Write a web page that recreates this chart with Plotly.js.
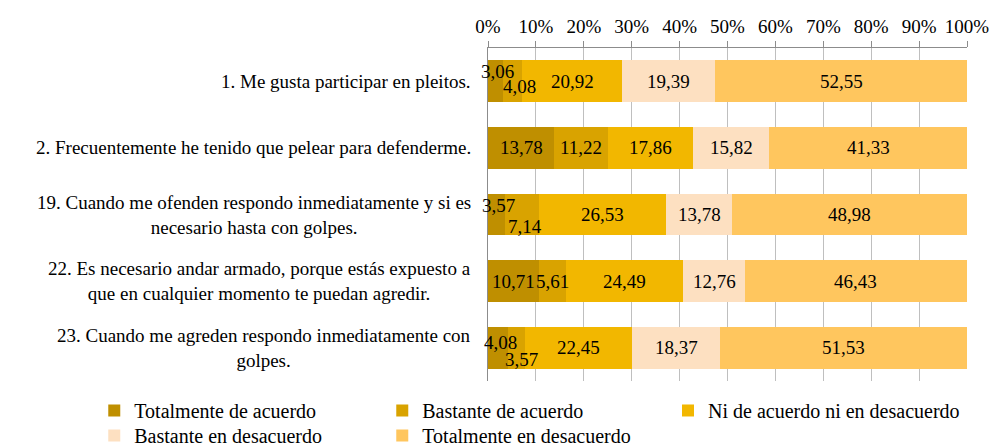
<!DOCTYPE html>
<html>
<head>
<meta charset="utf-8">
<script src="https://cdn.plot.ly/plotly-3.0.1.min.js"></script>
<style>html,body{margin:0;padding:0;background:#fff;}#chart{width:992px;height:446px;}</style>
</head>
<body>
<div id="chart"></div>
<script>
// Data
const categories = [
  "1. Me gusta participar en pleitos.",
  "2. Frecuentemente he tenido que pelear para defenderme.",
  "19. Cuando me ofenden respondo inmediatamente y si es<br>necesario hasta con golpes.",
  "22. Es necesario andar armado, porque estás expuesto a<br>que en cualquier momento te puedan agredir.",
  "23. Cuando me agreden respondo inmediatamente con<br>golpes."
];
const seriesNames = [
  "Totalmente de acuerdo",
  "Bastante de acuerdo",
  "Ni de acuerdo ni en desacuerdo",
  "Bastante en desacuerdo",
  "Totalmente en desacuerdo"
];
const totalmenteDeAcuerdo = [3.06, 13.78, 3.57, 10.71, 4.08];
const bastanteDeAcuerdo = [4.08, 11.22, 7.14, 5.61, 3.57];
const niDeAcuerdo = [20.92, 17.86, 26.53, 24.49, 22.45];
const bastanteEnDesacuerdo = [19.39, 15.82, 13.78, 12.76, 18.37];
const totalmenteEnDesacuerdo = [52.55, 41.33, 48.98, 46.43, 51.53];
const xTickVals = [0, 10, 20, 30, 40, 50, 60, 70, 80, 90, 100];
const xTickText = ["0%", "10%", "20%", "30%", "40%", "50%", "60%", "70%", "80%", "90%", "100%"];

// Styles
const colors = ["#BF8F00", "#D9A300", "#F2B700", "#FDE0C1", "#FFC65E"];
const legendOf = ["legend", "legend", "legend3", "legend2", "legend2"];
const FONT = "Liberation Serif";
const FS = 19;
const LFS = 20;
// label offsets "series-row" -> [xshift, yshift] (yshift positive = up)
const labelShift = {
  "0-0": [2, 10], "1-0": [7, -5],
  "0-2": [2, 9], "1-2": [3, -12],
  "0-4": [3, 5], "1-4": [5, -12]
};

const seriesValues = [totalmenteDeAcuerdo, bastanteDeAcuerdo, niDeAcuerdo, bastanteEnDesacuerdo, totalmenteEnDesacuerdo];

const traces = seriesValues.map((vals, i) => ({
  type: "bar",
  orientation: "h",
  name: seriesNames[i],
  legend: legendOf[i],
  x: vals,
  y: categories,
  marker: {color: colors[i], line: {width: 0}},
  hoverinfo: "x+name"
}));

const annotations = [];
categories.forEach((cat, r) => {
  let cum = 0;
  seriesValues.forEach((vals, s) => {
    const v = vals[r];
    const sh = labelShift[s + "-" + r] || [0, 0];
    annotations.push({
      x: cum + v / 2, y: cat, xref: "x", yref: "y",
      text: v.toFixed(2).replace(".", ","),
      showarrow: false,
      xshift: sh[0], yshift: sh[1],
      font: {family: FONT, size: FS, color: "#000"}
    });
    cum += v;
  });
  annotations.push({
    x: 0, y: cat, xref: "paper", yref: "y",
    xanchor: "right", align: "center",
    xshift: -15,
    text: cat, showarrow: false,
    font: {family: FONT, size: FS, color: "#000"}
  });
});

const legendBase = {
  orientation: "h",
  xanchor: "left", yanchor: "top",
  entrywidth: 243, entrywidthmode: "pixels",
  traceorder: "normal",
  font: {family: FONT, size: LFS, color: "#000"},
  itemwidth: 30,
  bgcolor: "rgba(0,0,0,0)"
};

const layout = {
  width: 992, height: 446,
  margin: {l: 488, r: 25, t: 48, b: 65, pad: 0, autoexpand: false},
  paper_bgcolor: "#fff", plot_bgcolor: "#fff",
  barmode: "stack",
  bargap: 0.37,
  font: {family: FONT, size: FS, color: "#000"},
  xaxis: {
    side: "top", range: [0, 100],
    tickmode: "array", tickvals: xTickVals, ticktext: xTickText,
    showgrid: true, gridcolor: "#BFBFBF", gridwidth: 1,
    zeroline: false,
    showline: true, linecolor: "#8C8C8C", linewidth: 1.5,
    ticks: "outside", ticklen: 6, tickcolor: "#8C8C8C",
    tickfont: {family: FONT, size: FS, color: "#000"}
  },
  yaxis: {
    type: "category",
    categoryorder: "array", categoryarray: categories,
    autorange: "reversed",
    showticklabels: false, ticks: "",
    showline: true, linecolor: "#8C8C8C", linewidth: 1.5,
    showgrid: false, zeroline: false
  },
  legend: Object.assign({}, legendBase, {x: -0.822, y: -0.030}),
  legend2: Object.assign({}, legendBase, {x: -0.822, y: -0.105}),
  legend3: Object.assign({}, legendBase, {x: 0.3758, y: -0.030, entrywidth: 0, entrywidthmode: "pixels"}),
  annotations: annotations,
  showlegend: true
};

Plotly.newPlot("chart", traces, layout, {displayModeBar: false, staticPlot: true});
</script>
</body>
</html>
